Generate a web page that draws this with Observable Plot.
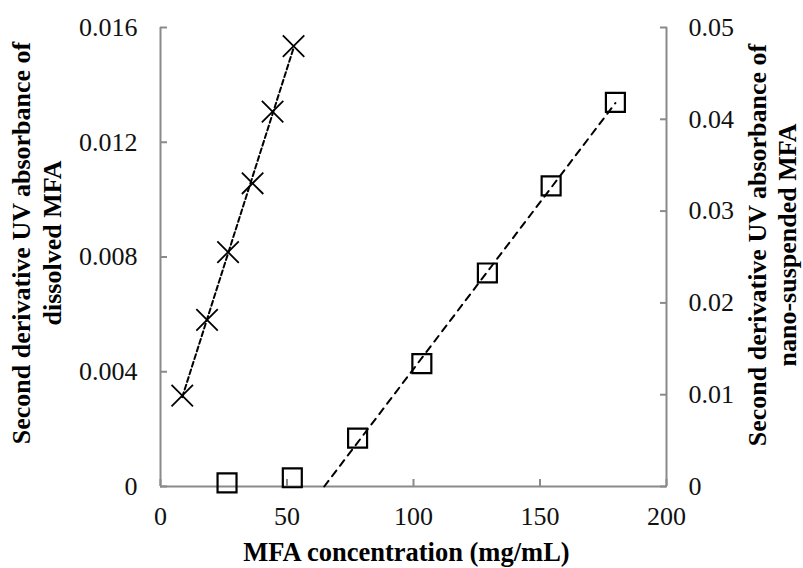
<!DOCTYPE html>
<html><head><meta charset="utf-8">
<script src="https://cdn.jsdelivr.net/npm/d3@7"></script>
<script src="https://cdn.jsdelivr.net/npm/@observablehq/plot@0.6"></script>
<style>
body{margin:0;background:#fff}
#chart svg{display:block}
#chart svg, #chart svg text, #chart svg tspan {font-family: "Liberation Serif", "Times New Roman", serif !important;}
</style>
</head><body><div id="chart"></div>
<script>
// Data
const concDissolved = [8.6, 18.4, 26.7, 36.4, 44.3, 52.6];
const absDissolved = [0.00317, 0.00581, 0.00817, 0.01057, 0.01307, 0.01535];
const concNano = [26.3, 52.1, 77.9, 103.3, 129.2, 154.4, 179.8];
const absNano = [0.0004, 0.00095, 0.00527, 0.01338, 0.02326, 0.03275, 0.04184];
const nanoFitStart = 2; // trend line fitted to the linear part (points 3-7)

const xTicks = [0, 50, 100, 150, 200];
const leftTicks = [0, 0.004, 0.008, 0.012, 0.016];
const rightTicks = [0, 0.01, 0.02, 0.03, 0.04, 0.05];
const xTitle = "MFA concentration (mg/mL)";
const leftTitle = "Second derivative UV absorbance of\ndissolved MFA";
const rightTitle = "Second derivative UV absorbance of\nnano-suspended MFA";

const leftMax = leftTicks[leftTicks.length - 1];
const rightMax = rightTicks[rightTicks.length - 1];
const k = leftMax / rightMax; // right axis -> left axis units

function fit(xs, ys) {
  const n = xs.length, mx = d3.mean(xs), my = d3.mean(ys);
  let sxy = 0, sxx = 0;
  for (let i = 0; i < n; i++) { sxy += (xs[i]-mx)*(ys[i]-my); sxx += (xs[i]-mx)**2; }
  const m = sxy / sxx, b = my - m*mx;
  return {m, b};
}

const dissolved = concDissolved.map((x, i) => ({x, y: absDissolved[i]}));
const nano = concNano.map((x, i) => ({x, y: absNano[i] * k}));

const fd = fit(concDissolved, absDissolved);
const dx0 = d3.min(concDissolved), dx1 = d3.max(concDissolved);
const lineDissolved = [dx0, dx1].map(x => ({x, y: fd.m*x + fd.b}));

const fn = fit(concNano.slice(nanoFitStart), absNano.slice(nanoFitStart));
const nx0 = -fn.b / fn.m, nx1 = d3.max(concNano);
const lineNano = [nx0, nx1].map(x => ({x, y: (fn.m*x + fn.b) * k}));

const fmt = v => String(+v.toFixed(4));
const axisColor = "#8a8a8a";
const FS = 26;
const FF = "Liberation Serif";

const chart = Plot.plot({
  width: 803, height: 568,
  marginLeft: 160, marginRight: 137, marginTop: 27, marginBottom: 82,
  style: {fontFamily: FF, fontSize: FS + "px", color: "#000", background: "#fff"},
  x: {domain: [xTicks[0], xTicks[xTicks.length-1]]},
  y: {domain: [0, leftMax]},
  marks: [
    Plot.axisX({ticks: xTicks, tickSize: -7, tickPadding: 27, stroke: axisColor, strokeWidth: 2, fill: "#111", fontSize: FS, fontFamily: FF, tickFormat: d => String(d), label: null}),
    Plot.axisY({anchor: "left", ticks: leftTicks, tickSize: -7, tickPadding: 30, stroke: axisColor, strokeWidth: 2, fill: "#111", fontSize: FS, fontFamily: FF, tickFormat: fmt, label: null}),
    Plot.axisY({anchor: "right", ticks: rightTicks.map(t => t * k), tickSize: -7, tickPadding: 29, stroke: axisColor, strokeWidth: 2, fill: "#111", fontSize: FS, fontFamily: FF, tickFormat: d => fmt(d / k), label: null}),
    Plot.ruleX([xTicks[0]], {stroke: axisColor, strokeWidth: 2}),
    Plot.ruleX([xTicks[xTicks.length-1]], {stroke: axisColor, strokeWidth: 2}),
    Plot.ruleY([0], {stroke: axisColor, strokeWidth: 2}),
    Plot.line(lineDissolved, {x: "x", y: "y", stroke: "#000", strokeWidth: 2, strokeDasharray: "5,3"}),
    Plot.line(lineNano, {x: "x", y: "y", stroke: "#000", strokeWidth: 2, strokeDasharray: "7,6"}),
    Plot.dot(dissolved, {x: "x", y: "y", symbol: "times", r: 9.8, stroke: "#000", strokeWidth: 1.8}),
    Plot.dot(nano, {x: "x", y: "y", symbol: "square", r: 10.7, stroke: "#000", fill: "none", strokeWidth: 2.2}),
    Plot.text([xTitle], {frameAnchor: "bottom", textAnchor: "middle", dx: -7, dy: 66, lineAnchor: "middle", fontWeight: "bold", fontSize: 26.5, fontFamily: FF, fill: "#000"}),
    Plot.text([leftTitle], {frameAnchor: "left", textAnchor: "middle", rotate: -90, dx: -125, dy: -14, lineAnchor: "middle", lineHeight: 1.18, fontWeight: "bold", fontSize: FS, fontFamily: FF, fill: "#000"}),
    Plot.text([rightTitle], {frameAnchor: "right", textAnchor: "middle", rotate: -90, dx: 105, dy: -12, lineAnchor: "middle", lineHeight: 1.14, fontWeight: "bold", fontSize: FS, fontFamily: FF, fill: "#000"})
  ]
});
document.getElementById("chart").appendChild(chart);
</script>
</body></html>
